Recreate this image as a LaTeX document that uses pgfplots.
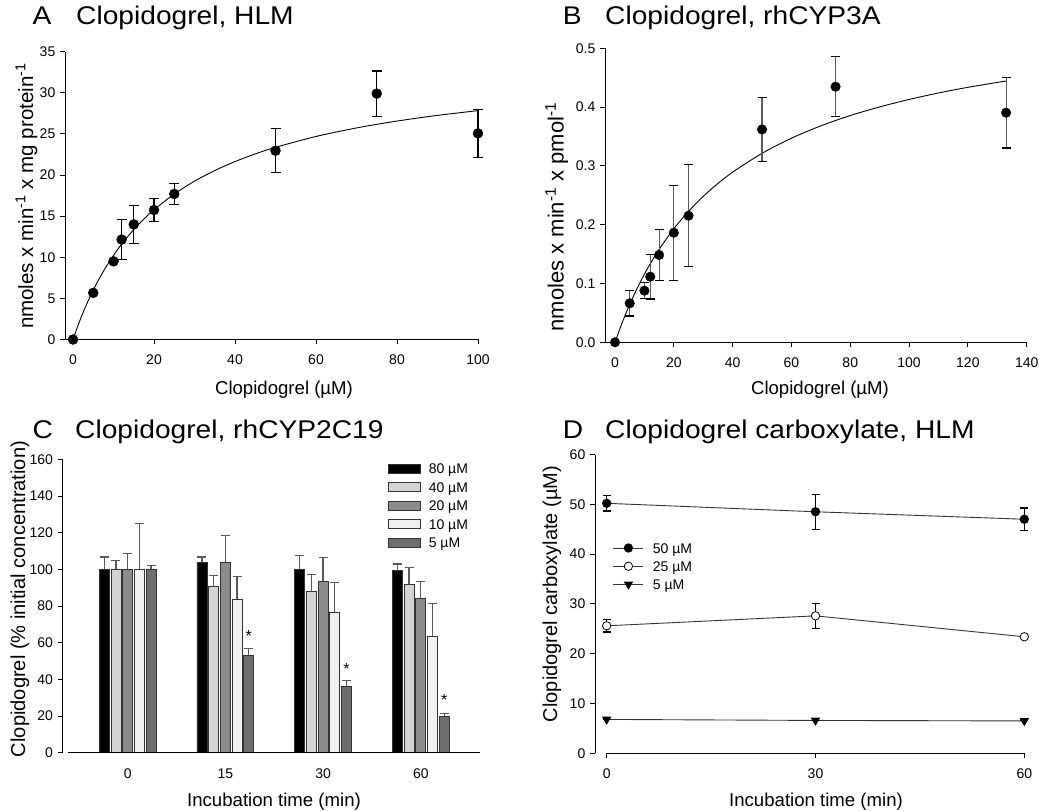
\documentclass[border=0pt]{standalone}
\usepackage{fontspec}
\setmainfont{Liberation Sans}
\newfontfamily\titlefont[FakeStretch=1.1]{Liberation Sans}
\usepackage{pgfplots}
\usepackage{pgfplotstable}
\pgfplotsset{compat=1.18}

\newcommand\ticksz{\fontsize{14}{16}\selectfont}
\newcommand\labsz{\fontsize{18.6}{22}\selectfont}
\newcommand\ylabsz{\fontsize{20.5}{24}\selectfont}
\newcommand\legsz{\fontsize{14}{16}\selectfont}
\newcommand\ttlsz{\titlefont\fontsize{25.6}{30}\selectfont}

\pgfplotsset{
  panel/.style={
    scale only axis, anchor=south west,
    axis x line*=bottom, axis y line*=left,
    axis line style={-, line width=0.9pt},
    tick align=outside, major tick length=5pt,
    tick style={black, line width=0.9pt},
    tick label style={font=\ticksz, inner sep=0pt},
    /pgf/number format/assume math mode=true,
    xticklabel shift=10.5pt, yticklabel shift=4.5pt,
    clip=false,
  },
  legbox/.style={legend image code/.code={\draw[##1] (0pt,-4.5pt) rectangle (32pt,4.5pt);}},
  legline/.style={legend image code/.code={\draw[mark repeat=2,mark phase=2,##1] plot coordinates {(0pt,0pt) (15pt,0pt) (30pt,0pt)};}},
}

\pgfplotstableread{
x   y      e
0   0      0
5   5.67   0
10  9.5    0
12  12.15  2.4
15  14.0   2.3
20  15.75  1.35
25  17.7   1.25
50  22.96  2.7
75  29.9   2.75
100 25.07  2.95
}\dataA

\pgfplotstableread{
x   y       e
0   0       0
5   0.0663  0.0215
10  0.0878  0.014
12  0.1116  0.038
15  0.1485  0.043
20  0.1864  0.081
25  0.2153  0.087
50  0.362   0.055
75  0.4347  0.051
133 0.3905  0.06
}\dataB

\pgfplotstableread{
x v80 e80 v40 e40 v20 e20 v10 e10 v5 e5
0 100 6.7 100 4.9 100 8.7 100 24.9 100 2.2
1 103.8 2.9 90.5 6.0 103.8 14.5 83.6 12.7 53.1 3.8
2 99.8 7.6 87.8 9.3 93.4 13.1 76.5 16.2 36.4 2.9
3 99.3 3.6 91.8 9.1 84.2 9.0 63.6 17.6 20.0 1.5
}\dataC

\pgfplotstableread{
x y e
0 50.2 1.55
30 48.5 3.55
60 47.0 2.25
}\dataDa
\pgfplotstableread{
x y e
0 25.6 1.25
30 27.6 2.55
60 23.4 0
}\dataDb
\pgfplotstableread{
x y e
0 6.8 0
30 6.6 0
60 6.5 0
}\dataDc

\begin{document}
\begin{tikzpicture}[x=1pt,y=1pt]
\path[use as bounding box] (0,0) rectangle (1039,811);

% ---------------- Panel A
\begin{axis}[panel, at={(65pt,471.5pt)}, width=413pt, height=287.8pt,
  xmin=-1.98, xmax=100, ymin=0, ymax=35,
  xtick={0,20,40,60,80,100}, ytick={0,5,10,15,20,25,30,35}]
\addplot[black, line width=0.9pt, smooth] coordinates {
(0,0) (1,1.398) (2,2.688) (3,3.880) (4,4.986) (5,6.014) (6,6.973) (8,8.709)
(10,10.238) (12,11.596) (15,13.368) (18,14.885) (20,15.780) (25,17.695)
(30,19.254) (35,20.546) (40,21.635) (45,22.566) (50,23.370) (60,24.689)
(70,25.726) (80,26.564) (90,27.254) (100,27.832)};
\addplot[only marks, mark=*, mark size=5pt, black,
  error bars/.cd, y dir=both, y explicit,
  error bar style={line width=1.1pt, black},
  error mark options={rotate=90, black, line width=1.1pt, mark size=5pt}]
  table[x=x, y=y, y error=e] {\dataA};
\end{axis}

% ---------------- Panel B
\begin{axis}[panel, at={(605pt,468.7pt)}, width=421.7pt, height=294pt,
  xmin=-3.4, xmax=140, ymin=0, ymax=0.5,
  xtick={0,20,40,60,80,100,120,140}, ytick={0,0.1,0.2,0.3,0.4,0.5},
  yticklabel style={/pgf/number format/.cd, fixed, fixed zerofill, precision=1}]
\addplot[black, line width=0.9pt, smooth] coordinates {
(0,0) (2,0.0276) (4,0.0527) (6,0.0756) (8,0.0966) (10,0.1159) (12,0.1337)
(15,0.1580) (20,0.1930) (25,0.2227) (30,0.2481) (35,0.2701) (40,0.2893)
(50,0.3214) (60,0.3471) (70,0.3681) (80,0.3856) (90,0.4003) (100,0.4130)
(110,0.4240) (120,0.4336) (133,0.4444)};
\addplot[only marks, mark=*, mark size=4.8pt, black,
  error bars/.cd, y dir=both, y explicit,
  error bar style={line width=1.1pt, black!65},
  error mark options={rotate=90, black, line width=1.1pt, mark size=4.5pt}]
  table[x=x, y=y, y error=e] {\dataB};
\end{axis}

% ---------------- Panel C
\begin{axis}[panel, at={(62.7pt,58.3pt)}, width=417.3pt, height=293.4pt,
  xmin=-0.665, xmax=3.606, ymin=0, ymax=160,
  ytick={0,20,40,60,80,100,120,140,160},
  xtick={0,1,2,3}, xticklabels={0,15,30,60},
  x axis line style={draw=none}, xtick style={draw=none},
  ybar=1.7pt, bar width=10pt,
  legend style={at={(0.7795,1.0)}, anchor=north west, draw=none, fill=none,
    inner sep=0pt, outer sep=0pt, column sep=8pt, row sep=0pt, font=\legsz,
    nodes={inner sep=0pt, text height=14.3pt, text depth=4.3pt}},
  legend cell align=left,
  cbar/.style={draw=black!80, line width=0.8pt, legbox,
    error bars/.cd, y dir=plus, y explicit,
    error bar style={line width=1.2pt, black!65},
    error mark options={rotate=90, black!65, line width=1.2pt, mark size=4.5pt},
    /pgfplots/.cd},
  ]
\addplot[fill=black, cbar] table[x=x, y=v80, y error=e80] {\dataC};
\addlegendentry{80 µM}
\addplot[fill=black!17, cbar] table[x=x, y=v40, y error=e40] {\dataC};
\addlegendentry{40 µM}
\addplot[fill=black!45, cbar] table[x=x, y=v20, y error=e20] {\dataC};
\addlegendentry{20 µM}
\addplot[fill=black!6, cbar] table[x=x, y=v10, y error=e10] {\dataC};
\addlegendentry{10 µM}
\addplot[fill=black!57, cbar] table[x=x, y=v5, y error=e5] {\dataC};
\addlegendentry{5 µM}
\draw[line width=0.9pt] (axis cs:-0.611,0) -- (axis cs:3.606,0);
\node[font=\fontsize{16}{18}\selectfont, inner sep=0pt] at (axis cs:1.2395,63.5) {*};
\node[font=\fontsize{16}{18}\selectfont, inner sep=0pt] at (axis cs:2.2395,45.7) {*};
\node[font=\fontsize{16}{18}\selectfont, inner sep=0pt] at (axis cs:3.2395,28.9) {*};
\end{axis}

% ---------------- Panel D
\begin{axis}[panel, at={(595pt,57.7pt)}, width=429.3pt, height=298.8pt,
  xmin=-1.68, xmax=60, ymin=0, ymax=60,
  xtick={0,30,60}, ytick={0,10,20,30,40,50,60},
  x axis line style={draw=none},
  legend style={at={(0.0419,0.7175)}, anchor=north west, draw=none, fill=none,
    inner sep=0pt, outer sep=0pt, column sep=9pt, row sep=0pt, font=\legsz,
    nodes={inner sep=0pt, text height=14.1pt, text depth=4.1pt}},
  legend cell align=left,
  dline/.style={black!80, line width=0.9pt, legline,
    error bars/.cd, y dir=both, y explicit,
    error bar style={line width=1.1pt, black, solid},
    error mark options={rotate=90, black, line width=1.1pt, mark size=4pt},
    /pgfplots/.cd},
  ]
\draw[line width=0.9pt] (axis cs:0,0) -- (axis cs:60,0);
\addplot[dline, mark=*, mark size=4.2pt, mark options={fill=black, draw=black}]
  table[x=x, y=y, y error=e] {\dataDa};
\addlegendentry{50 µM}
\addplot[dline, mark=*, mark size=4.2pt, mark options={fill=white, draw=black, line width=0.8pt}]
  table[x=x, y=y, y error=e] {\dataDb};
\addlegendentry{25 µM}
\addplot[dline, mark=triangle*, mark size=4.5pt, mark options={rotate=180, fill=black, draw=black}]
  table[x=x, y=y, y error=e] {\dataDc};
\addlegendentry{5 µM}
\end{axis}

% ---------------- Titles
\node[anchor=base west, inner sep=0pt, font=\ttlsz] at (32.3,786) {A};
\node[anchor=base west, inner sep=0pt, font=\ttlsz] at (76,786) {Clopidogrel, HLM};
\node[anchor=base west, inner sep=0pt, font=\ttlsz] at (562.7,786) {B};
\node[anchor=base west, inner sep=0pt, font=\ttlsz] at (605,786) {Clopidogrel, rhCYP3A};
\node[anchor=base west, inner sep=0pt, font=\ttlsz] at (32.3,372.7) {C};
\node[anchor=base west, inner sep=0pt, font=\ttlsz] at (75,372.7) {Clopidogrel, rhCYP2C19};
\node[anchor=base west, inner sep=0pt, font=\ttlsz] at (562.7,372.7) {D};
\node[anchor=base west, inner sep=0pt, font=\ttlsz] at (605,372.7) {Clopidogrel carboxylate, HLM};

% ---------------- Axis labels
\node[anchor=base, inner sep=0pt, font=\labsz] at (284,416) {Clopidogrel (µM)};
\node[anchor=base, inner sep=0pt, font=\labsz] at (820,416) {Clopidogrel (µM)};
\node[anchor=base, inner sep=0pt, font=\labsz] at (274,4) {Incubation time (min)};
\node[anchor=base, inner sep=0pt, font=\labsz] at (816,4) {Incubation time (min)};
\node[anchor=base, rotate=90, inner sep=0pt, font=\ylabsz] at (33,615)
  {nmoles x min\textsuperscript{-1} x mg protein\textsuperscript{-1}};
\node[anchor=base, rotate=90, inner sep=0pt, font=\fontsize{22}{26}\selectfont] at (563.5,594)
  {nmoles x min\textsuperscript{-1} x pmol\textsuperscript{-1}};
\node[anchor=base, rotate=90, inner sep=0pt, font=\fontsize{20.1}{24}\selectfont] at (25,212)
  {Clopidogrel (\% initial concentration)};
\node[anchor=base, rotate=90, inner sep=0pt, font=\fontsize{20}{24}\selectfont] at (557,217)
  {Clopidogrel carboxylate (µM)};
\end{tikzpicture}
\end{document}
